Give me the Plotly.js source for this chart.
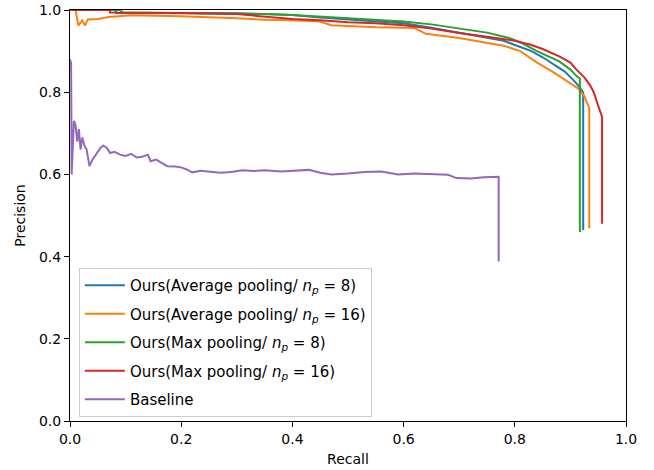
<!DOCTYPE html>
<html>
<head>
<meta charset="utf-8">
<script src="https://cdn.plot.ly/plotly-3.0.1.min.js"></script>
<style>html,body{margin:0;padding:0;background:#fff;}#chart{width:654px;height:470px;}</style>
</head>
<body>
<div id="chart"></div>
<script>
const seriesNames = [
  "Ours(Average pooling/ <i>n</i><sub><i>p</i></sub> = 8)",
  "Ours(Average pooling/ <i>n</i><sub><i>p</i></sub> = 16)",
  "Ours(Max pooling/ <i>n</i><sub><i>p</i></sub> = 8)",
  "Ours(Max pooling/ <i>n</i><sub><i>p</i></sub> = 16)",
  "Baseline"
];
const seriesColors = ["#1f77b4", "#ff7f0e", "#2ca02c", "#d62728", "#9467bd"];

const avg8Recall = [0, 0.08, 0.084, 0.12, 0.2, 0.3, 0.35, 0.4, 0.45, 0.5, 0.55, 0.6, 0.65, 0.7, 0.75, 0.78, 0.81, 0.83, 0.85, 0.87, 0.89, 0.905, 0.915, 0.923, 0.923];
const avg8Precision = [1.0, 1.0, 0.993, 0.993, 0.992, 0.992, 0.99, 0.988, 0.982, 0.977, 0.972, 0.968, 0.957, 0.945, 0.933, 0.925, 0.91, 0.9, 0.885, 0.868, 0.85, 0.83, 0.815, 0.8, 0.465];

const avg16Recall = [0, 0.01, 0.015, 0.022, 0.027, 0.032, 0.05, 0.07, 0.11, 0.2, 0.3, 0.35, 0.4, 0.45, 0.47, 0.55, 0.62, 0.64, 0.7, 0.75, 0.78, 0.81, 0.84, 0.87, 0.9, 0.915, 0.925, 0.934, 0.934];
const avg16Precision = [1.0, 1.0, 0.962, 0.975, 0.962, 0.977, 0.978, 0.983, 0.987, 0.985, 0.98, 0.976, 0.975, 0.972, 0.963, 0.958, 0.956, 0.942, 0.932, 0.92, 0.913, 0.9, 0.872, 0.848, 0.82, 0.808, 0.79, 0.761, 0.469];

const max8Recall = [0, 0.09, 0.095, 0.2, 0.3, 0.35, 0.4, 0.45, 0.5, 0.55, 0.6, 0.65, 0.7, 0.75, 0.79, 0.81, 0.84, 0.86, 0.88, 0.9, 0.912, 0.917, 0.917];
const max8Precision = [1.0, 1.0, 0.994, 0.993, 0.992, 0.99, 0.988, 0.984, 0.98, 0.975, 0.972, 0.965, 0.955, 0.945, 0.932, 0.921, 0.9, 0.888, 0.875, 0.855, 0.838, 0.834, 0.46];

const max16Recall = [0, 0.072, 0.072, 0.2, 0.3, 0.34, 0.4, 0.45, 0.5, 0.55, 0.6, 0.65, 0.7, 0.75, 0.8, 0.83, 0.85, 0.88, 0.9, 0.91, 0.925, 0.935, 0.942, 0.948, 0.953, 0.957, 0.957];
const max16Precision = [1.0, 1.0, 0.994, 0.993, 0.99, 0.985, 0.978, 0.975, 0.97, 0.968, 0.963, 0.955, 0.944, 0.935, 0.925, 0.915, 0.905, 0.887, 0.872, 0.856, 0.836, 0.818, 0.8, 0.775, 0.755, 0.74, 0.48];

const baseRecall = [0, 0.002, 0.003, 0.005, 0.007, 0.01, 0.013, 0.016, 0.019, 0.022, 0.026, 0.03, 0.035, 0.04, 0.045, 0.05, 0.055, 0.06, 0.066, 0.072, 0.08, 0.09, 0.1, 0.11, 0.12, 0.13, 0.14, 0.145, 0.155, 0.165, 0.175, 0.19, 0.2, 0.21, 0.22, 0.235, 0.25, 0.27, 0.29, 0.31, 0.33, 0.35, 0.38, 0.41, 0.43, 0.45, 0.47, 0.5, 0.53, 0.56, 0.59, 0.62, 0.65, 0.68, 0.695, 0.72, 0.745, 0.771, 0.771];
const basePrecision = [0.88, 0.87, 0.6, 0.66, 0.73, 0.72, 0.68, 0.71, 0.66, 0.69, 0.67, 0.66, 0.62, 0.635, 0.645, 0.655, 0.665, 0.67, 0.665, 0.652, 0.655, 0.648, 0.645, 0.65, 0.641, 0.643, 0.648, 0.632, 0.636, 0.628, 0.62, 0.619, 0.617, 0.612, 0.605, 0.609, 0.607, 0.604, 0.606, 0.61, 0.608, 0.61, 0.607, 0.61, 0.611, 0.604, 0.6, 0.602, 0.606, 0.607, 0.6, 0.602, 0.6, 0.599, 0.591, 0.59, 0.593, 0.594, 0.388];

const xs = [avg8Recall, avg16Recall, max8Recall, max16Recall, baseRecall];
const ys = [avg8Precision, avg16Precision, max8Precision, max16Precision, basePrecision];

const traces = xs.map((x, i) => ({
  x: x, y: ys[i], type: "scatter", mode: "lines",
  name: seriesNames[i], legendgroup: "g" + i,
  line: {color: seriesColors[i], width: 2}
}));

const font = {family: "DejaVu Sans, sans-serif", size: 14, color: "#000"};
const legendFont = {family: "DejaVu Sans, sans-serif", size: 15, color: "#000"};
const axisCommon = {
  range: [0, 1], tickvals: [0, 0.2, 0.4, 0.6, 0.8, 1.0], tickformat: ".1f",
  showgrid: false, zeroline: false, showline: true, linecolor: "#000", linewidth: 1,
  mirror: true, ticks: "outside", ticklen: 5, tickwidth: 1, tickcolor: "#000",
  tickfont: font, automargin: false
};

const layout = {
  width: 654, height: 470,
  margin: {l: 70, r: 28, t: 10, b: 49},
  paper_bgcolor: "#fff", plot_bgcolor: "#fff",
  font: font,
  showlegend: true,
  xaxis: Object.assign({}, axisCommon, {title: {text: "Recall", font: font, standoff: 8}}),
  yaxis: Object.assign({}, axisCommon, {title: {text: "Precision", font: font, standoff: 10}}),
  legend: {
    x: 0.016, y: 0.372, xanchor: "left", yanchor: "top",
    bgcolor: "rgba(255,255,255,0.8)", bordercolor: "#cccccc", borderwidth: 1,
    font: legendFont, traceorder: "grouped", tracegroupgap: 6, itemwidth: 40
  }
};

Plotly.newPlot("chart", traces, layout, {displayModeBar: false, staticPlot: true});
</script>
</body>
</html>
